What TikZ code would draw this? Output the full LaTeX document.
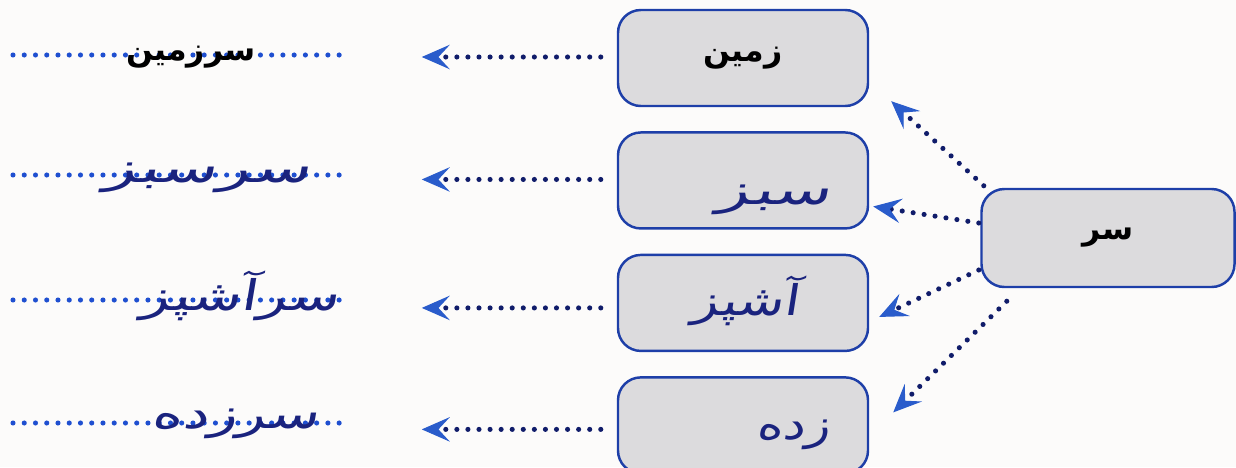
\documentclass[tikz,border=0pt]{standalone}
\usepackage{fontspec}
\usetikzlibrary{arrows.meta, positioning, calc}
\TeXXeTstate=1
\newfontfamily\farsi[Script=Arabic]{DejaVu Sans}
\newfontfamily\farsihand[Script=Arabic,FakeSlant=0.12]{DejaVu Sans}
\definecolor{boxblue}{HTML}{1E3FA8}
\definecolor{boxgray}{HTML}{DCDBDD}
\definecolor{dotnavy}{HTML}{101C6A}
\definecolor{tipblue}{HTML}{2A5CCB}
\definecolor{lineblue}{HTML}{1F4FD0}
\definecolor{inkblue}{HTML}{1A237E}
\definecolor{paper}{HTML}{FCFBFA}

\begin{document}
\begin{tikzpicture}[
  wordbox/.style={draw=boxblue, fill=boxgray, line width=1.4pt, rounded corners=13pt,
                  minimum width=5cm, minimum height=1.92cm, inner sep=0pt},
  rootbox/.style={wordbox, minimum width=5.06cm, minimum height=1.96cm},
  arr/.style={dotnavy, line width=2.9pt, line cap=round, dash pattern=on 0pt off 6.3pt,
              -{Stealth[length=16pt, width=14pt, inset=6.5pt, line width=0.6pt, color=tipblue]}},
  blank/.style={lineblue, line width=2.9pt, line cap=round, dash pattern=on 0pt off 6.4pt},
  printed/.style={font=\farsi\bfseries\fontsize{18}{21}\selectfont, text=black},
  hand/.style={font=\farsihand\fontsize{24}{28}\selectfont, text=inkblue,
               xscale=#1, transform shape},
  hand/.default=1.5,
]
\useasboundingbox[fill=paper] (0,0) rectangle (24.72,9.34);

% word boxes
\node[wordbox, printed] (zamin) at (14.86,8.18) {\beginR زمین\endR};
\node[wordbox, below=0.48cm of zamin] (sabz) {};
\node[wordbox, below=0.48cm of sabz] (ashpaz) {};
\node[wordbox, below=0.48cm of ashpaz] (zadeh) {};

% root box
\node[rootbox, printed] (sar) at (22.16,4.58) {\beginR سر\endR};

% handwritten words in the boxes
\node[hand=1.6] (sabzw) at ($(sabz.center)+(0.62,-0.38)$) {\beginR سبز\endR};
\node[hand=1.3] (ashpazw) at ($(ashpaz.center)+(0.04,0.04)$) {\beginR آشپز\endR};
\node[hand=1.2] (zadehw) at ($(zadeh.center)+(1.0,-0.18)$) {\beginR زده\endR};

% answer lines and arrows to them
\foreach \b/\dy/\ly in {zamin/0.02/8.24, sabz/0.02/5.84, ashpaz/-0.1/3.34, zadeh/-0.08/0.88} {
  \coordinate (\b-tip) at ($(\b.west)+(-3.9,\dy)$);
  \draw[arr] ([shift={(-0.32,\dy)}]\b.west) -- (\b-tip);
  \coordinate (\b-a) at (0.26,\ly);
  \coordinate (\b-b) at (6.9,\ly);
  \draw[blank] (\b-a) -- (\b-b);
}

% answers
\node[printed] (a1) at (3.82,8.2) {\beginR سرزمین\endR};
\node[hand=1.6] (a2) at (4.14,5.78) {\beginR سرسبز\endR};
\node[hand=1.4] (a3) at (4.8,3.42) {\beginR سرآشپز\endR};
\node[hand=1.4] (a4) at (4.7,0.86) {\beginR سرزده\endR};

% arrows from the root
\draw[arr] ([shift={(0.07,0.04)}]sar.north west) -- ([shift={(0.44,0.12)}]zamin.south east);
\draw[arr] ([shift={(-0.03,0.30)}]sar.west) -- ([shift={(0.08,-0.52)}]sabz.east);
\draw[arr] ([shift={(-0.03,-0.64)}]sar.west) -- ([shift={(0.20,-0.28)}]ashpaz.east);
\draw[arr] ([shift={(0.53,-0.26)}]sar.south west) -- ([shift={(0.48,0.26)}]zadeh.east);

\end{tikzpicture}
\end{document}
